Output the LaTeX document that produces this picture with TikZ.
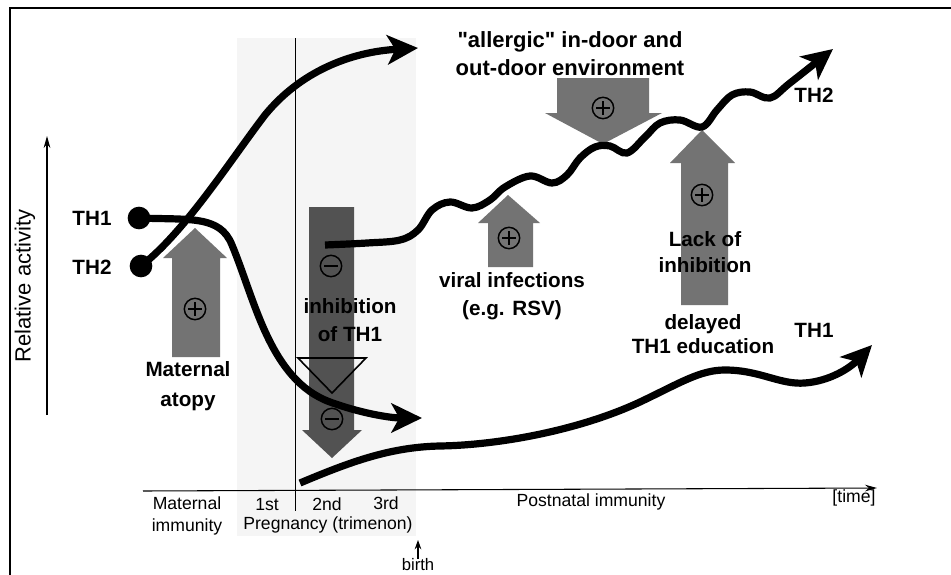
\documentclass[tikz,border=0pt]{standalone}
\usepackage{fontspec}
\setmainfont{Liberation Sans}
\usetikzlibrary{arrows.meta}

\tikzset{
  curve/.style={line width=5.4pt,-{Stealth[length=23pt,width=22pt,inset=6pt]}},
  greyarrow/.style={fill=black!55},
  darkarrow/.style={fill=black!68},
  dot/.style={circle,fill=black,inner sep=0pt,minimum size=17pt},
  lbl/.style={font=\fontsize{15.5}{17}\selectfont\bfseries,align=center,inner sep=0pt},
  axislbl/.style={font=\fontsize{13.2}{14}\selectfont,align=center,inner sep=0pt},
  sign/.style={circle,draw,line width=1.1pt,minimum size=16pt,inner sep=0pt},
  plus/.style={sign,path picture={\draw[line width=1.1pt]
      ([xshift=3pt]path picture bounding box.west) -- ([xshift=-3pt]path picture bounding box.east)
      ([yshift=-3pt]path picture bounding box.north) -- ([yshift=3pt]path picture bounding box.south);}},
  minus/.style={sign,path picture={\draw[line width=1.1pt]
      ([xshift=3pt]path picture bounding box.west) -- ([xshift=-3pt]path picture bounding box.east);}}
}

\begin{document}
\begin{tikzpicture}[x=0.75pt,y=0.75pt,yscale=-1,xscale=1]
\useasboundingbox (0,0) rectangle (951,575);
% frame and pregnancy period
\draw[line width=2pt] (10,575) -- (10,8) -- (951,8);
\fill[black!4] (237,38) rectangle (416,536);
\draw[line width=0.6pt] (295,38) -- (295,511);
% axes
\coordinate (yfrom) at (47,415);
\coordinate (yto) at (47,136);
\coordinate (xfrom) at (143,491);
\coordinate (xto) at (877,488);
\draw[line width=0.8pt,-{Stealth[length=9pt,width=5pt]}] (yfrom) -- (yto);
\draw[line width=0.8pt,-{Stealth[length=9pt,width=5pt]}] (xfrom) -- (xto);
\node[rotate=90,font=\fontsize{16.5}{18}\selectfont,inner sep=0pt] (relact) at (25,286) {Relative activity};
% grey arrows
\fill[greyarrow] (172,357) -- (172,258) -- (163,258) -- (195,228) -- (227,258) -- (220,258) -- (220,357) -- cycle;
\fill[darkarrow] (309,207) -- (354,207) -- (354,430) -- (362,430) -- (332,458) -- (302,430) -- (309,430) -- cycle;
\fill[greyarrow] (488,267) -- (488,223) -- (478,223) -- (508,195) -- (540,223) -- (533,223) -- (533,267) -- cycle;
\fill[greyarrow] (557,78) -- (649,78) -- (649,113) -- (662,113) -- (603,144) -- (545,113) -- (557,113) -- cycle;
\fill[greyarrow] (681,305) -- (681,163) -- (670,163) -- (702,130) -- (735,163) -- (728,163) -- (728,305) -- cycle;
\draw[line width=1.2pt] (298,358) -- (366,358) -- (332,393) -- cycle;
% signs
\node[plus] (atopyplus) at (195,309) {};
\node[minus] (inhminusa) at (331,266) {};
\node[minus] (inhminusb) at (332,419) {};
\node[plus] (viralplus) at (509,238) {};
\node[plus] (allergplus) at (603,108) {};
\node[plus] (lackplus) at (702,195) {};
% labels
\node[lbl] (th1lbl) at (92,218) {TH1};
\node[lbl] (th2lbl) at (92,267) {TH2};
\node[lbl] (atopy) at (188,386) {Maternal\\[5pt]atopy};
\node[lbl] (inhib) at (350,320) {inhibition\\[4pt]of TH1};
\node[lbl] (viral) at (512,296) {viral infections\\[4pt](e.g. RSV)};
\node[lbl,font=\fontsize{16.5}{18}\selectfont\bfseries] (allerg) at (570,54) {\textquotedbl allergic\textquotedbl\ in-door and\\[3pt]out-door environment};
\node[lbl] (lack) at (705,252) {Lack of\\[2pt]inhibition};
\node[lbl] (delayed) at (703,334) {delayed\\[1pt]TH1 education};
\node[lbl] (th2end) at (814,95) {TH2};
\node[lbl] (th1end) at (814,330) {TH1};
% time axis
\node[axislbl] (matimm) at (187,516) {Maternal\\[3pt]immunity};
\node[axislbl] (first) at (267,505) {1st};
\node[axislbl] (second) at (327,504) {2nd};
\node[axislbl] (third) at (386,503) {3rd};
\node[axislbl] (preg) at (328,525) {Pregnancy (trimenon)};
\node[axislbl] (postnat) at (591,502) {Postnatal immunity};
\node[axislbl] (time) at (854,498) {[time]};
\node[axislbl,font=\fontsize{12.5}{13}\selectfont] (birth) at (418,565) {birth};
\coordinate (birthtip) at (418,540);
\draw[line width=0.8pt,-{Stealth[length=7pt,width=5pt]}] (birth.north) -- (birthtip);
% curves
\node[dot] (th1dot) at (139,218) {};
\node[dot] (th2dot) at (141,266) {};
\coordinate (th2up) at (418,48);
\coordinate (th1down) at (422,418);
\coordinate (th1low) at (300,483);
\coordinate (th1lowend) at (872,345);
\coordinate (wavestart) at (325,245);
\draw[curve] (th2dot.center) .. controls (185,232) and (232,158) .. (265,115)
  .. controls (300,72) and (350,52) .. (th2up);
\draw[curve] (th1dot.center) .. controls (190,220) and (220,215) .. (232,245)
  .. controls (255,300) and (270,380) .. (330,402)
  .. controls (360,413) and (390,418) .. (th1down);
\draw[curve] (th1low) .. controls (350,462) and (390,447) .. (440,446)
  .. controls (500,445) and (580,430) .. (640,402)
  .. controls (680,383) and (700,370) .. (725,370)
  .. controls (760,370) and (780,385) .. (805,383)
  .. controls (830,381) and (850,368) .. (th1lowend);
\draw[curve] (wavestart) -- plot[smooth,tension=0.6] coordinates {(325,245) (367,243) (400,240) (418,230) (432,210) (450,202) (472,208) (490,200) (505,187) (530,176) (552,183) (567,175) (580,158) (595,147) (610,146) (627,153) (645,137) (660,123) (680,120) (702,127) (717,110) (732,95) (750,92) (770,98) (790,83) (833,49)};
\end{tikzpicture}
\end{document}
